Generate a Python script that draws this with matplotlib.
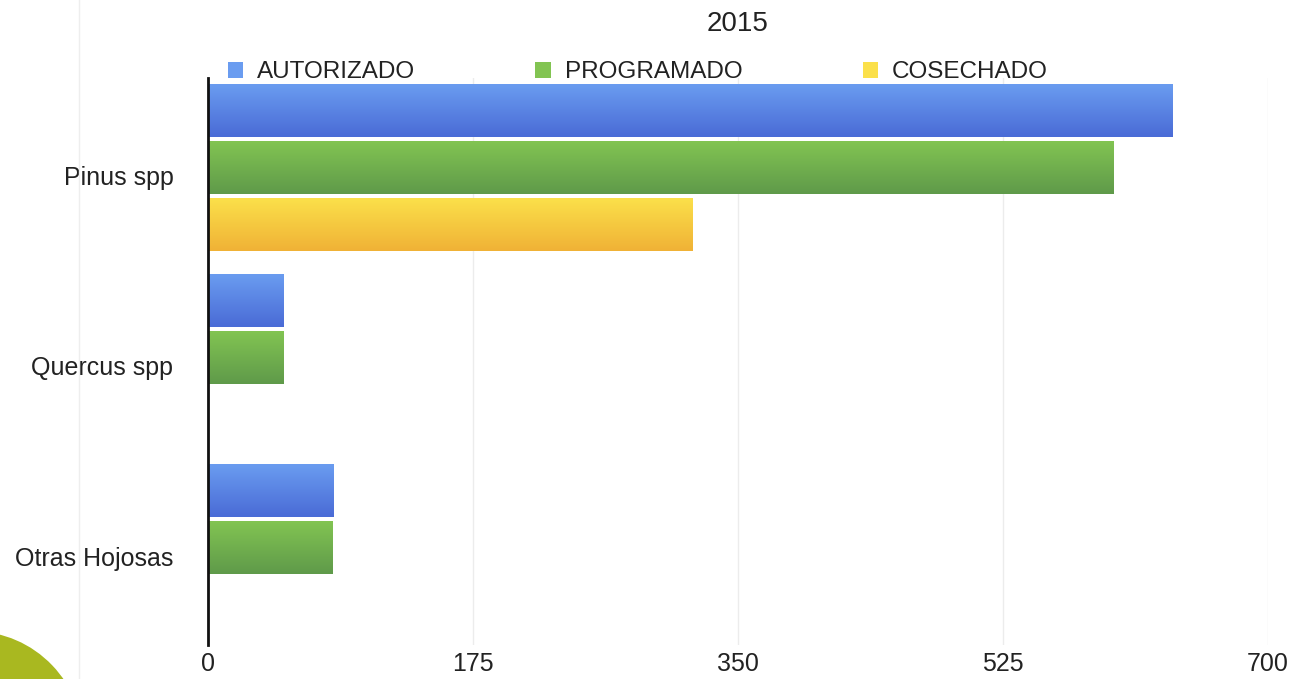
import numpy as np
import matplotlib
matplotlib.use('Agg')
import matplotlib.pyplot as plt
import matplotlib.transforms as mtrans
from matplotlib.colors import LinearSegmentedColormap
from matplotlib.patches import Ellipse, Patch
from matplotlib.lines import Line2D

plt.rcParams['font.family'] = ['Liberation Sans', 'DejaVu Sans']

# data
categories = ['Pinus spp', 'Quercus spp', 'Otras Hojosas']
series = ['AUTORIZADO', 'PROGRAMADO', 'COSECHADO']
autorizado = [637, 50, 83]
programado = [598, 50, 82]
cosechado = [320, 0, 0]
xticks = [0, 175, 350, 525, 700]

# gradient (top colour, bottom colour) for each series
grads = [('#6a9cf0', '#4a6bd6'), ('#82c452', '#5f9a4a'), ('#fbe04a', '#f0b236')]

fig = plt.figure(figsize=(13.01, 6.79), dpi=100)
ax = fig.add_axes([0.16, 0.05, 0.8146, 0.835])

y = np.arange(len(categories))
offs = [-0.3, 0.0, 0.3]
h = 0.275
values = [autorizado, programado, cosechado]

for vals, off, (c1, c2) in zip(values, offs, grads):
    bars = ax.barh(y + off, vals, height=h, color=c1, edgecolor='none', zorder=2)
    cmap = LinearSegmentedColormap.from_list('g', [c1, c2])
    grad = np.linspace(0, 1, 64).reshape(-1, 1)
    for b in bars:
        if b.get_width() <= 0:
            b.set_visible(False)
            continue
        x0, y0 = b.get_x(), b.get_y()
        w, hh = b.get_width(), b.get_height()
        ax.imshow(grad, cmap=cmap, aspect='auto', zorder=3,
                  extent=(x0, x0 + w, y0 + hh, y0), origin='upper')

ax.set_xlim(0, 700)
ax.set_ylim(2.51, -0.47)
ax.set_yticks(y)
ax.set_yticklabels(categories, fontsize=18)
ax.set_xticks(xticks)
ax.set_xticklabels([str(t) for t in xticks], fontsize=18)
ax.tick_params(axis='both', length=0, colors='#222222')
ax.tick_params(axis='x', pad=5)
ax.tick_params(axis='y', pad=25)

# labels sit a bit lower than the group centre in the original
shift = mtrans.ScaledTranslation(0, -0.08, fig.dpi_scale_trans)
for lab in ax.get_yticklabels():
    lab.set_transform(lab.get_transform() + shift)

ax.grid(axis='x', color='#ececec', linewidth=1, zorder=0)
for s in ['top', 'right', 'bottom']:
    ax.spines[s].set_visible(False)
ax.spines['left'].set_linewidth(2)
ax.spines['left'].set_color('#111111')
ax.spines['left'].set_zorder(5)

ax.set_title('2015', fontsize=20, pad=34, color='#222222')

handles = [Patch(facecolor=c[0], edgecolor='none') for c in grads]
leg = ax.legend(handles, series, loc='lower left', bbox_to_anchor=(0.0186, 0.991),
                ncol=3, frameon=False, fontsize=17.5, handlelength=0.62,
                handleheight=0.62, handletextpad=0.58, columnspacing=4.95,
                borderaxespad=0, borderpad=0)
for t in leg.get_texts():
    t.set_color('#222222')

# slide decoration: faint border line and green blob
fig.add_artist(Line2D([0.061, 0.061], [0, 1], transform=fig.transFigure,
                      color='#eeeeee', linewidth=1))
fig.add_artist(Ellipse((-0.02, -0.1), 0.17, 0.34, transform=fig.transFigure,
                       facecolor='#a9b820', edgecolor='none'))

fig.savefig('out.png', dpi=100)
